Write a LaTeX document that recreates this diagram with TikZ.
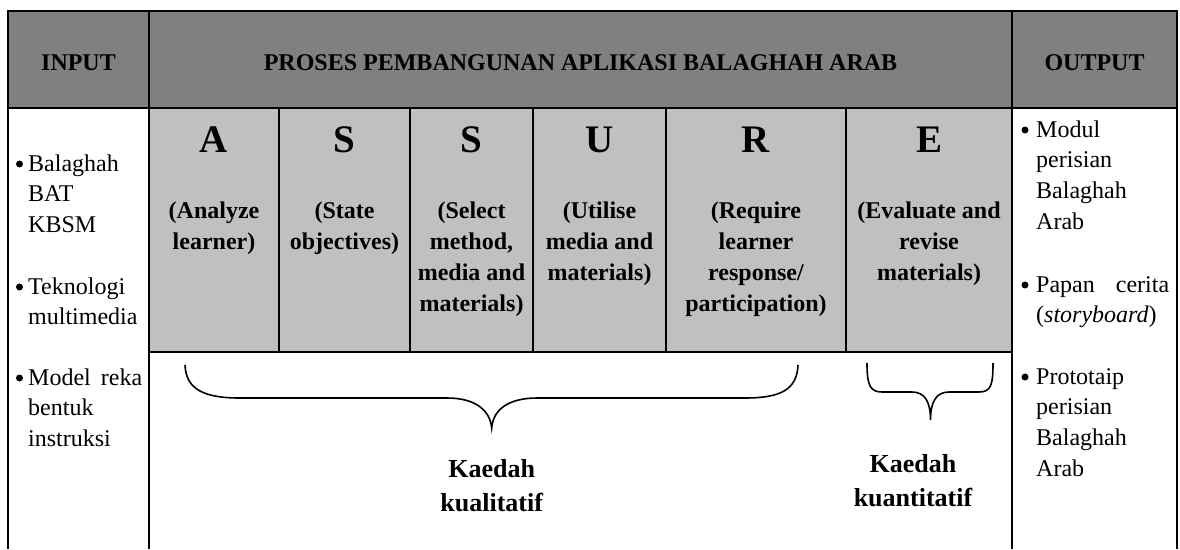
\documentclass[tikz,border=0pt]{standalone}
\usepackage{fontspec}
\setmainfont{Liberation Serif}
\definecolor{hdrgray}{HTML}{808080}
\definecolor{cellgray}{HTML}{C0C0C0}
\begin{document}
\begin{tikzpicture}[x=1pt,y=-1pt,
  grid/.style={line width=2.5pt},
  hd/.style={font=\fontsize{24}{31}\selectfont\bfseries, inner sep=0, anchor=base},
  big/.style={font=\fontsize{39}{39}\selectfont\bfseries, inner sep=0, anchor=base},
  sub/.style={font=\fontsize{24}{31}\selectfont\bfseries, inner sep=0, anchor=north, align=center},
  body/.style={font=\fontsize{24}{30.8}\selectfont, inner sep=0, anchor=north west, align=left},
  bul/.style={circle, fill=black, inner sep=0, minimum size=7pt},
  lab/.style={font=\fontsize{26}{34}\selectfont\bfseries, inner sep=0, anchor=north, align=center},
  bracep/.style={line width=1.6pt}]
\useasboundingbox (0,0) rectangle (1180,549);
% fills
\fill[hdrgray] (8,11) rectangle (1177,108);
\fill[cellgray] (149,108) rectangle (1012,352);
% grid lines
\draw[grid] (8,549) -- (8,11) -- (1177,11) -- (1177,549);
\draw[grid] (8,108) -- (1177,108);
\draw[grid] (149,11) -- (149,549);
\draw[grid] (1012,11) -- (1012,549);
\draw[grid] (149,352) -- (1012,352);
\foreach \x in {279,410,533,666,846} \draw[grid] (\x,108) -- (\x,352);
% header
\node[hd] (inp) at (78.5,70) {INPUT};
\node[hd] (proc) at (580.5,70) {PROSES PEMBANGUNAN APLIKASI BALAGHAH ARAB};
\node[hd] (outp) at (1094.5,70) {OUTPUT};
% big letters
\node[big] (lA) at (214,152) {A};
\node[big] (lS1) at (344.5,152) {S};
\node[big] (lS2) at (471.5,152) {S};
\node[big] (lU) at (599.5,152) {U};
\node[big] (lR) at (756,152) {R};
\node[big] (lE) at (929,152) {E};
% subtitles
\node[sub] (tA) at (214,196.3) {\strut(Analyze\\learner)};
\node[sub] (tS1) at (344.5,196.3) {\strut(State\\objectives)};
\node[sub] (tS2) at (471.5,196.3) {\strut(Select\\method,\\media and\\materials)};
\node[sub] (tU) at (599.5,196.3) {\strut(Utilise\\media and\\materials)};
\node[sub] (tR) at (756,196.3) {\strut(Require\\learner\\response/\\participation)};
\node[sub] (tE) at (929,196.3) {\strut(Evaluate and\\revise\\materials)};
% input column
\node[bul] (ib1) at (19.5,164) {};
\node[body] (it1) at (28,149.4) {\strut Balaghah\\BAT\\KBSM};
\node[bul] (ib2) at (19.5,287) {};
\node[body] (it2) at (28,272.4) {\strut Teknologi\\multimedia};
\node[bul] (ib3) at (19.5,378) {};
\node[body] (it3) at (28,363.4) {\strut\makebox[114pt][s]{Model reka}\\bentuk\\instruksi};
% output column
\node[bul] (ob1) at (1025,130) {};
\node[body] (ot1) at (1036,115.4) {\strut Modul\\perisian\\Balaghah\\Arab};
\node[bul] (ob2) at (1025,285) {};
\node[body] (ot2) at (1036,270.4) {\strut\makebox[133pt][s]{Papan cerita}\\(\textit{storyboard})};
\node[bul] (ob3) at (1025,377) {};
\node[body] (ot3) at (1036,362.4) {\strut Prototaip\\perisian\\Balaghah\\Arab};
% braces
\draw[bracep] (185,365) .. controls (186,390) and (205,398) .. (240,398)
  -- (447,398) .. controls (475,398) and (490,410) .. (491.7,428)
  .. controls (493,410) and (508,398) .. (537,398)
  -- (745,398) .. controls (780,398) and (797,390) .. (798,365);
\draw[bracep] (867,363) .. controls (867,385) and (870,392) .. (882,392)
  -- (912,392) .. controls (925,392) and (930.5,402) .. (930.5,420)
  .. controls (930.5,402) and (936,392) .. (949,392)
  -- (979,392) .. controls (991,392) and (993,385) .. (993,363);
% labels
\node[lab] (kq) at (491.7,453.9) {\strut Kaedah\\kualitatif};
\node[lab] (kn) at (913,448.9) {\strut Kaedah\\kuantitatif};
\end{tikzpicture}
\end{document}
